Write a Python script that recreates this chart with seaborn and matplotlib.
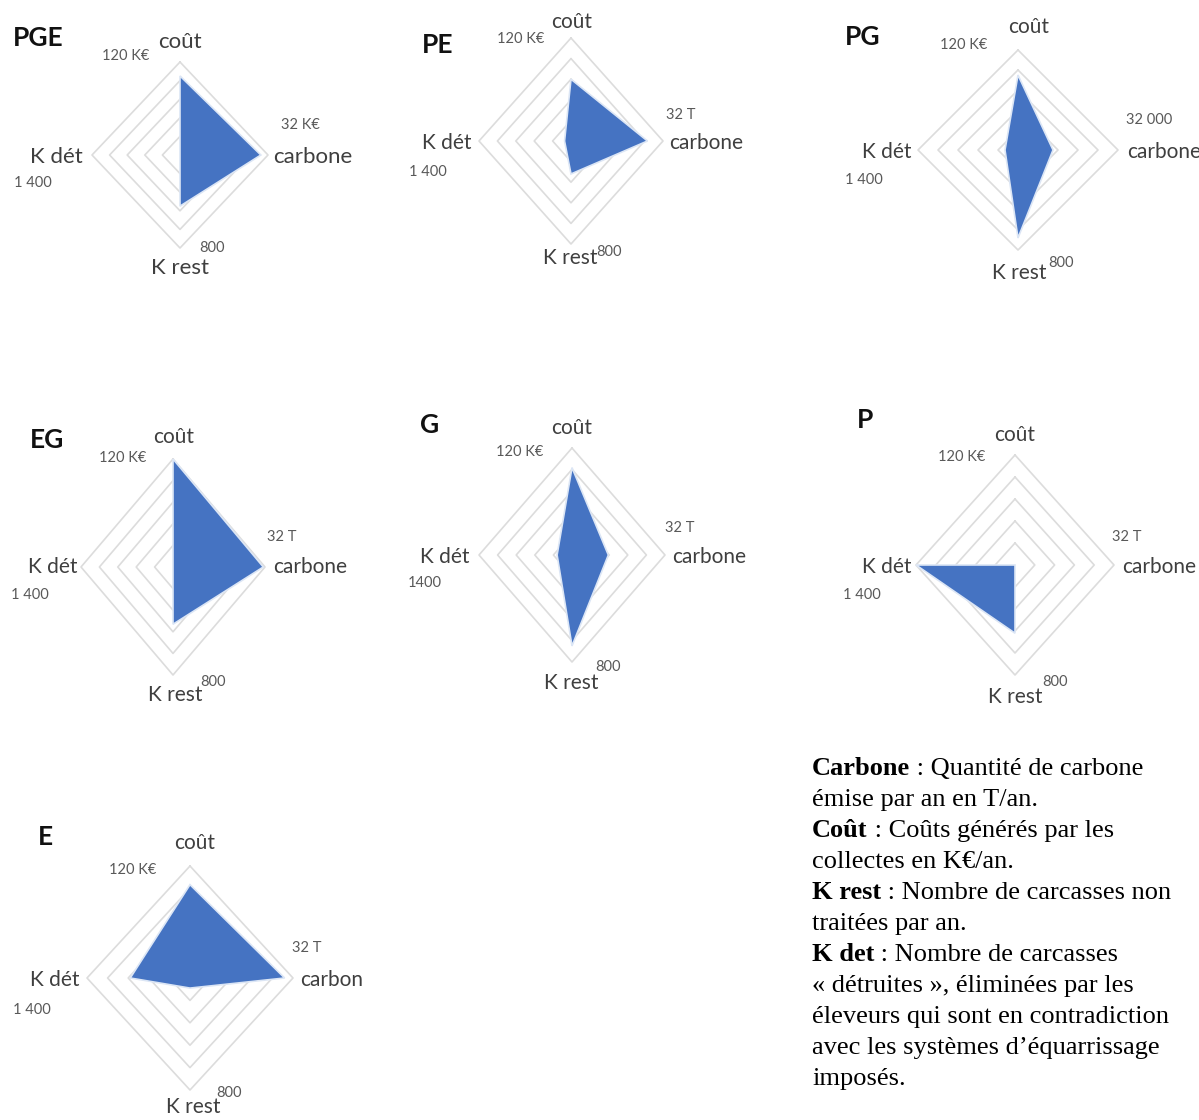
import numpy as np
import pandas as pd
import matplotlib
matplotlib.use("Agg")
import matplotlib.pyplot as plt
import seaborn as sns

# ---- data: one entry per collection scenario -------------------------------
scenarios = ["PGE", "PE", "PG", "EG", "G", "P", "E"]
cout_keur = [102, 72, 90, 120, 98, 0, 100]          # coût, K€/an (scale max 120)
carbone_t = [29.4, 26.6, 11.2, 31.4, 12.5, 0, 29.4]  # carbone, T/an (scale max 32)
k_rest = [440, 256, 704, 424, 680, 496, 72]           # carcasses non traitées (max 800)
k_det = [0, 98, 182, 0, 224, 1400, 812]               # carcasses détruites (max 1400)

scale_max = {"cout": 120, "carbone": 32, "k_rest": 800, "k_det": 1400}
ring_levels = [0.2, 0.4, 0.6, 0.8, 1.0]

carbone_names = ["carbone", "carbone", "carbone", "carbone", "carbone", "carbone", "carbon"]
carbone_ticks = ["32 K€", "32 T", "32 000", "32 T", "32 T", "32 T", "32 T"]
kdet_ticks = ["1 400", "1 400", "1 400", "1 400", "1400", "1 400", "1 400"]
cout_tick = "120 K€"
krest_tick = "800"

legend_lines = [
    ("Carbone", " : Quantité de carbone"),
    ("", "émise par an en T/an."),
    ("Coût", " : Coûts générés par les"),
    ("", "collectes en K€/an."),
    ("K rest", " : Nombre de carcasses non"),
    ("", "traitées par an."),
    ("K det", " : Nombre de carcasses"),
    ("", "« détruites », éliminées par les"),
    ("", "éleveurs qui sont en contradiction"),
    ("", "avec les systèmes d’équarrissage"),
    ("", "imposés."),
]

# ---- page layout (pixels) ---------------------------------------------------
W, H = 1199, 1120
# centre x, centre y, half width, half height of the outer diamond
frames = [
    (180, 155, 88, 93),
    (571, 141, 92, 103),
    (1018, 150, 100, 100),
    (173, 567, 92, 108),
    (572, 555, 93, 107),
    (1015, 565, 99, 110),
    (190, 978, 103, 112),
]
# title(left,y), coût, 120K€, K dét(right,y), 1 400, carbone(left,y), 32.., 800, K rest
text_pos = [
    [(13, 38), (180, 42), (126, 56), (83, 157), (33, 183), (273, 157), (300, 125), (212, 248), (180, 268)],
    [(422, 45), (572, 22), (521, 39), (472, 143), (428, 172), (669, 143), (681, 115), (609, 252), (570, 258)],
    [(845, 37), (1029, 27), (964, 45), (912, 152), (864, 180), (1127, 152), (1149, 120), (1061, 263), (1019, 273)],
    [(30, 440), (174, 437), (123, 458), (77, 567), (30, 595), (273, 567), (282, 537), (213, 682), (175, 695)],
    [(420, 425), (572, 428), (520, 452), (470, 557), (425, 583), (672, 557), (680, 528), (608, 667), (571, 683)],
    [(857, 420), (1015, 435), (962, 457), (912, 567), (862, 595), (1122, 567), (1127, 537), (1055, 682), (1015, 697)],
    [(38, 837), (195, 843), (133, 870), (80, 980), (32, 1010), (300, 980), (307, 948), (229, 1093), (193, 1107)],
]
label_size = [16, 15, 15, 15, 15, 15, 15]

FILL = "#4573C2"
GRID = "#DCDCDC"
LABEL_C = "#3F3F3F"
TICK_C = "#595959"

sns.set_theme(style="white")
plt.rcParams["font.family"] = ["Lato", "DejaVu Sans"]

fig = plt.figure(figsize=(W / 100, H / 100), dpi=100)
fig.patch.set_facecolor("white")


def fx(x):
    return x / W


def fy(y):
    return 1 - y / H


# diamond ring outlines as a long table for seaborn
ring_rows = []
for lvl in ring_levels:
    for k, (x, y) in enumerate([(0, 1), (1, 0), (0, -1), (-1, 0), (0, 1)]):
        ring_rows.append({"ring": lvl, "order": k, "x": x * lvl, "y": y * lvl})
rings = pd.DataFrame(ring_rows)

for i, name in enumerate(scenarios):
    cx, cy, rx, ry = frames[i]
    ax = fig.add_axes([fx(cx - rx), fy(cy + ry), 2 * rx / W, 2 * ry / H])
    ax.set_xlim(-1, 1)
    ax.set_ylim(-1, 1)
    ax.axis("off")

    sns.lineplot(data=rings, x="x", y="y", units="ring", estimator=None, sort=False,
                 color=GRID, linewidth=1.2, ax=ax, legend=False)
    for ln in ax.lines:
        ln.set_clip_on(False)

    r_c = cout_keur[i] / scale_max["cout"]
    r_ca = carbone_t[i] / scale_max["carbone"]
    r_kr = k_rest[i] / scale_max["k_rest"]
    r_kd = k_det[i] / scale_max["k_det"]
    px = [0, r_ca, 0, -r_kd]
    py = [r_c, 0, -r_kr, 0]
    ax.fill(px, py, color=FILL, edgecolor="#DCE6F5", linewidth=1.2, clip_on=False, zorder=3)

    tp = text_pos[i]
    ls = label_size[i]
    fig.text(fx(tp[0][0]), fy(tp[0][1]), name, fontsize=19, fontweight="bold",
             color="#111111", ha="left", va="center")
    fig.text(fx(tp[1][0]), fy(tp[1][1]), "coût", fontsize=ls, color=LABEL_C, ha="center", va="center")
    fig.text(fx(tp[2][0]), fy(tp[2][1]), cout_tick, fontsize=10.5, color=TICK_C, ha="center", va="center")
    fig.text(fx(tp[3][0]), fy(tp[3][1]), "K dét", fontsize=ls, color=LABEL_C, ha="right", va="center")
    fig.text(fx(tp[4][0]), fy(tp[4][1]), kdet_ticks[i], fontsize=10.5, color=TICK_C, ha="center", va="center")
    fig.text(fx(tp[5][0]), fy(tp[5][1]), carbone_names[i], fontsize=ls, color=LABEL_C, ha="left", va="center")
    fig.text(fx(tp[6][0]), fy(tp[6][1]), carbone_ticks[i], fontsize=10.5, color=TICK_C, ha="center", va="center")
    fig.text(fx(tp[7][0]), fy(tp[7][1]), krest_tick, fontsize=10.5, color=TICK_C, ha="center", va="center")
    fig.text(fx(tp[8][0]), fy(tp[8][1]), "K rest", fontsize=ls, color=LABEL_C, ha="center", va="center")

# ---- definitions block ------------------------------------------------------
renderer = fig.canvas.get_renderer()
x0, base0, step = 812, 775, 31
serif = ["Liberation Serif", "DejaVu Serif"]
for j, (bold, rest) in enumerate(legend_lines):
    yb = base0 + j * step
    xr = x0
    if bold:
        tb = fig.text(fx(x0), fy(yb), bold, fontsize=19, fontweight="bold",
                      family=serif, color="black", ha="left", va="baseline")
        bb = tb.get_window_extent(renderer=renderer)
        xr = x0 + bb.width
    fig.text(fx(xr), fy(yb), rest, fontsize=19, family=serif, color="black",
             ha="left", va="baseline")

fig.savefig("out.png", dpi=100, facecolor="white")
